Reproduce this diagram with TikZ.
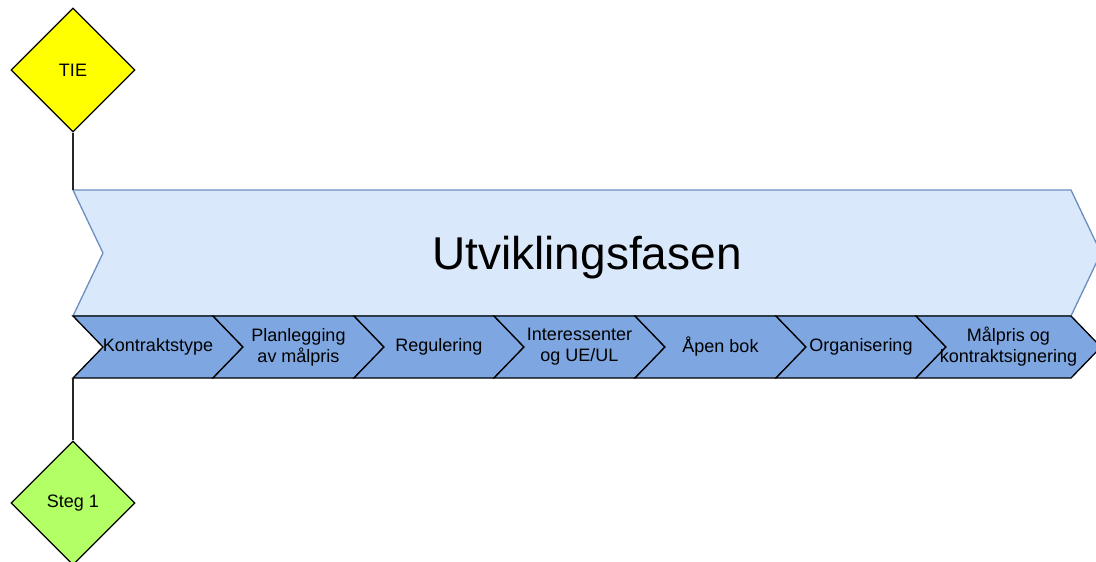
\documentclass[tikz,border=0pt]{standalone}
\usepackage{fontspec}
\setmainfont{Liberation Sans}
\usetikzlibrary{shapes.geometric}
\definecolor{tieyellow}{HTML}{FFFF00}
\definecolor{steggreen}{HTML}{B3FF66}
\definecolor{phasefill}{HTML}{DAE8FC}
\definecolor{phaseline}{HTML}{6C8EBF}
\definecolor{stepfill}{HTML}{7EA6E0}
\begin{document}
\begin{tikzpicture}[x=1pt,y=-1pt,
  milestone/.style={diamond, draw=black, line width=1.3pt, minimum size=124pt,
    inner sep=0pt, font=\fontsize{18}{21}\selectfont},
  phase/.style={fill=phasefill, draw=phaseline, line width=1.3pt},
  stepbox/.style={fill=stepfill, draw=black, line width=1.3pt},
  steplabel/.style={align=center, font=\fontsize{18}{21}\selectfont, inner sep=0pt},
  link/.style={draw=black!85, line width=1.3pt}]
\useasboundingbox (0,0) rectangle (1096,562);

% milestones
\node[milestone, fill=tieyellow] (tie) at (73,70) {TIE};
\node[milestone, fill=steggreen] (steg) at (73,503) {Steg 1};

% phase arrow
\path[phase] (73,190) -- (1071,190) -- (1101,253) -- (1071,316)
  -- (73,316) -- (103,253) -- cycle;
\node[font=\fontsize{46}{55}\selectfont, anchor=base, inner sep=0pt] (phase) at (587,269) {Utviklingsfasen};

% step chevrons
\foreach \L/\R/\nm/\txt in {
    73/213/s1/Kontraktstype,
    213/354/s2/{Planlegging\\av målpris},
    354/494/s3/Regulering,
    494/635/s4/{Interessenter\\og UE/UL},
    635/776/s5/Åpen bok,
    776/916/s6/Organisering,
    916/1071/s7/{Målpris og\\kontraktsignering}} {
  \path[stepbox] (\L,316) -- (\R,316) -- (\R+30,347) -- (\R,378)
    -- (\L,378) -- (\L+30,347) -- cycle;
  \node[steplabel] (\nm) at ({(\L+\R+30)/2},347) {\txt};
}

% connectors
\coordinate (phasecorner) at (73,190);
\coordinate (stepcorner) at (73,378);
\draw[link] (tie.south) -- (phasecorner);
\draw[link] (stepcorner) -- (steg.north);
\end{tikzpicture}
\end{document}
